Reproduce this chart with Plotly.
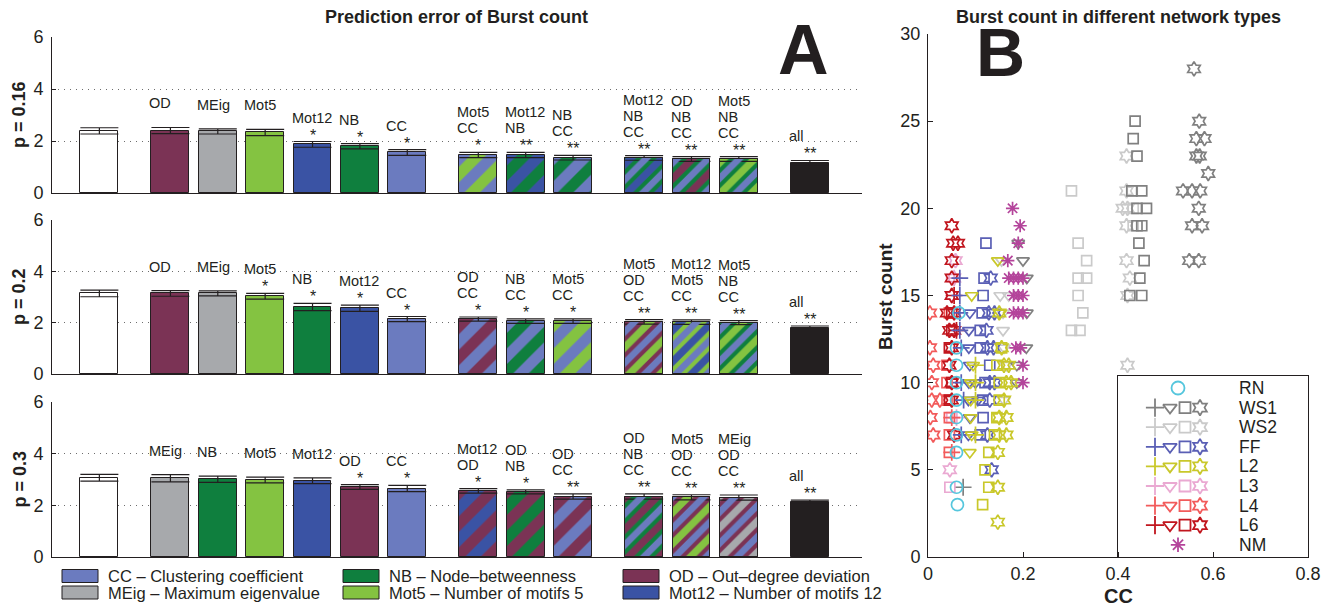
import plotly.graph_objects as go

W, H = 1329, 607
OFF = 8  # the page body margin that shifts the figure inside the window
FONT = "Liberation Sans, Arial, Helvetica, sans-serif"
INK = "#231f20"

# ---------------- Panel A data ----------------
group_sizes = [1, 6, 3, 3, 1]
panel_names = ["p = 0.16", "p = 0.2", "p = 0.3"]

labels_016 = ["", "OD", "MEig", "Mot5", "Mot12", "NB", "CC",
              "Mot5 CC", "Mot12 NB", "NB CC",
              "Mot12 NB CC", "OD NB CC", "Mot5 NB CC", "all"]
values_016 = [2.39, 2.40, 2.37, 2.33, 1.87, 1.80, 1.56, 1.46, 1.46, 1.36, 1.35, 1.31, 1.31, 1.17]
errors_016 = [0.12, 0.12, 0.10, 0.12, 0.11, 0.10, 0.11, 0.10, 0.10, 0.09, 0.09, 0.09, 0.09, 0.08]
stars_016 = ["", "", "", "", "*", "*", "*", "*", "**", "**", "**", "**", "**", "**"]

labels_02 = ["", "OD", "MEig", "Mot5", "NB", "Mot12", "CC",
             "OD CC", "NB CC", "Mot5 CC",
             "Mot5 OD CC", "Mot12 Mot5 CC", "Mot5 NB CC", "all"]
values_02 = [3.14, 3.14, 3.14, 3.03, 2.61, 2.56, 2.14, 2.14, 2.06, 2.06, 2.03, 2.02, 2.00, 1.81]
errors_02 = [0.13, 0.11, 0.10, 0.11, 0.14, 0.12, 0.10, 0.08, 0.09, 0.09, 0.09, 0.09, 0.08, 0.06]
stars_02 = ["", "", "", "*", "*", "*", "*", "*", "*", "*", "**", "**", "**", "**"]

labels_03 = ["", "MEig", "NB", "Mot5", "Mot12", "OD", "CC",
             "Mot12 OD", "OD NB", "OD CC",
             "OD NB CC", "Mot5 OD CC", "MEig OD CC", "all"]
values_03 = [3.07, 3.05, 3.01, 2.98, 2.95, 2.71, 2.65, 2.56, 2.52, 2.34, 2.34, 2.31, 2.30, 2.12]
errors_03 = [0.13, 0.14, 0.12, 0.11, 0.11, 0.09, 0.12, 0.09, 0.08, 0.10, 0.10, 0.10, 0.10, 0.08]
stars_03 = ["", "", "", "", "", "*", "*", "*", "*", "**", "**", "**", "**", "**"]

feature_colors = {"": "#ffffff", "CC": "#6b7bbf", "MEig": "#a7a9ac", "NB": "#0f7f3e",
                  "Mot5": "#84c341", "OD": "#7b3355", "Mot12": "#3a53a4", "all": "#231f20"}
legend_keys = ["CC", "NB", "OD", "MEig", "Mot5", "Mot12"]
legend_texts = ["CC – Clustering coefficient", "NB – Node–betweenness", "OD – Out–degree deviation",
                "MEig – Maximum eigenvalue", "Mot5 – Number of motifs 5", "Mot12 – Number of motifs 12"]

# ---------------- Panel B data ----------------
RN_x = [0.062, 0.06, 0.06, 0.06, 0.06, 0.06, 0.06, 0.06, 0.06, 0.065]
RN_y = [3, 4, 6, 7, 8, 9, 10, 11, 12, 14]

WS1_plus_x = [0.074]
WS1_plus_y = [4]
WS1_tri_x = [0.19, 0.2, 0.208, 0.208, 0.207, 0.187, 0.187]
WS1_tri_y = [18, 17, 16, 14, 12, 11, 10]
WS1_sq_x = [0.436, 0.432, 0.44, 0.429, 0.45, 0.44, 0.46, 0.44, 0.45, 0.444, 0.455, 0.446, 0.425, 0.45]
WS1_sq_y = [25, 24, 23, 21, 21, 20, 20, 19, 19, 18, 17, 16, 15, 15]
WS1_hex_x = [0.56, 0.571, 0.565, 0.582, 0.565, 0.572, 0.59, 0.537, 0.556, 0.573, 0.57, 0.556, 0.577, 0.55, 0.57]
WS1_hex_y = [28, 25, 24, 24, 23, 23, 22, 21, 21, 21, 20, 19, 19, 17, 17]

WS2_tri_x = [0.155, 0.152, 0.17, 0.158, 0.158, 0.16, 0.165, 0.16]
WS2_tri_y = [17, 15, 15, 14, 13, 12, 11, 9]
WS2_sq_x = [0.302, 0.316, 0.334, 0.316, 0.334, 0.316, 0.326, 0.302, 0.32, 0.43, 0.432, 0.432]
WS2_sq_y = [21, 18, 17, 16, 16, 15, 14, 13, 13, 21, 20, 19]
WS2_hex_x = [0.418, 0.418, 0.41, 0.42, 0.418, 0.418, 0.425, 0.42, 0.42]
WS2_hex_y = [23, 21, 20, 20, 19, 17, 16, 15, 11]

FF_plus_x = [0.067, 0.067, 0.067, 0.067, 0.07, 0.07, 0.075, 0.07]
FF_plus_y = [16, 15, 14, 13, 12, 10, 9, 7]
FF_tri_x = [0.088, 0.086, 0.086, 0.088, 0.086, 0.085, 0.088, 0.085, 0.1, 0.105]
FF_tri_y = [14, 13, 12, 11, 10, 9, 8, 7, 10, 9]
FF_sq_x = [0.122, 0.118, 0.116, 0.114, 0.11, 0.11, 0.13, 0.12, 0.115, 0.116, 0.11]
FF_sq_y = [18, 16, 15, 14, 13, 12, 11, 10, 9, 8, 7]
FF_hex_x = [0.132, 0.128, 0.14, 0.123, 0.125, 0.138, 0.13, 0.14, 0.13, 0.125, 0.134]
FF_hex_y = [16, 14, 14, 13, 12, 12, 10, 10, 9, 7, 5]

L2_plus_x = [0.1, 0.1, 0.1, 0.1]
L2_plus_y = [11, 10, 9, 7]
L2_tri_x = [0.147, 0.092, 0.152, 0.095, 0.09, 0.09, 0.09, 0.092, 0.088]
L2_tri_y = [17, 15, 14, 11, 10, 9, 8, 7, 6]
L2_sq_x = [0.115, 0.128, 0.12, 0.128, 0.14, 0.145, 0.15, 0.15, 0.145, 0.155]
L2_sq_y = [3, 4, 5, 6, 7, 8, 9, 10, 11, 12]
L2_hex_x = [0.147, 0.147, 0.147, 0.15, 0.165, 0.15, 0.165, 0.16, 0.165, 0.175, 0.16, 0.17, 0.155, 0.15]
L2_hex_y = [2, 4, 6, 7, 7, 8, 8, 9, 10, 10, 11, 11, 12, 14]

L3_plus_x = [0.06, 0.055]
L3_plus_y = [8, 16]
L3_sq_x = [0.046, 0.05]
L3_sq_y = [4, 8]
L3_hex_x = [0.046, 0.058, 0.055, 0.05]
L3_hex_y = [5, 17, 16, 15]

L4_plus_x = [0.05, 0.05]
L4_plus_y = [6, 8]
L4_sq_x = [0.04, 0.04, 0.04, 0.045, 0.045, 0.045, 0.045]
L4_sq_y = [11, 10, 9, 8, 7, 6, 14]
L4_hex_x = [0.004, 0.004, 0.011, 0.008, 0.008, 0.025, 0.005, 0.011]
L4_hex_y = [14, 12, 11, 10, 9, 9, 8, 7]

L6_plus_x = [0.055, 0.06]
L6_plus_y = [15, 13]
L6_sq_x = [0.05, 0.05, 0.045, 0.05, 0.045]
L6_sq_y = [14, 13, 12, 10, 9]
L6_hex_x = [0.05, 0.053, 0.063, 0.05, 0.05, 0.05, 0.04, 0.055, 0.045, 0.055, 0.05, 0.045, 0.05, 0.05, 0.055]
L6_hex_y = [19, 18, 18, 17, 16, 15, 14, 14, 13, 13, 12, 11, 10, 9, 7]

NM_x = [0.178, 0.194, 0.19, 0.168, 0.17, 0.18, 0.19, 0.2, 0.18, 0.19, 0.2, 0.18, 0.19, 0.2, 0.185, 0.195, 0.2, 0.2]
NM_y = [20, 19, 18, 17, 16, 16, 16, 16, 15, 15, 15, 14, 14, 14, 12, 12, 11, 10]

type_names = ["RN", "WS1", "WS2", "FF", "L2", "L3", "L4", "L6", "NM"]
type_colors = {"RN": "#55c6dd", "WS1": "#808080", "WS2": "#cacaca", "FF": "#5a5fb5", "L2": "#c9c82a",
               "L3": "#eaa9d2", "L4": "#f25b5b", "L6": "#c1161e", "NM": "#b4449b"}
kind_symbol = {"circle": "circle-open", "plus": "cross-thin-open", "tri": "triangle-down-open",
               "sq": "square-open", "hex": "hexagram-open", "ast": "asterisk-open"}
kind_size = {"circle": 12, "plus": 12, "tri": 11, "sq": 10, "hex": 11, "ast": 11}

scatter_series = [
    ("WS2", "tri", WS2_tri_x, WS2_tri_y), ("WS2", "sq", WS2_sq_x, WS2_sq_y), ("WS2", "hex", WS2_hex_x, WS2_hex_y),
    ("WS1", "plus", WS1_plus_x, WS1_plus_y), ("WS1", "tri", WS1_tri_x, WS1_tri_y),
    ("WS1", "sq", WS1_sq_x, WS1_sq_y), ("WS1", "hex", WS1_hex_x, WS1_hex_y),
    ("L3", "plus", L3_plus_x, L3_plus_y), ("L3", "sq", L3_sq_x, L3_sq_y), ("L3", "hex", L3_hex_x, L3_hex_y),
    ("L4", "plus", L4_plus_x, L4_plus_y), ("L4", "sq", L4_sq_x, L4_sq_y), ("L4", "hex", L4_hex_x, L4_hex_y),
    ("L6", "plus", L6_plus_x, L6_plus_y), ("L6", "sq", L6_sq_x, L6_sq_y), ("L6", "hex", L6_hex_x, L6_hex_y),
    ("FF", "plus", FF_plus_x, FF_plus_y), ("FF", "tri", FF_tri_x, FF_tri_y),
    ("FF", "sq", FF_sq_x, FF_sq_y), ("FF", "hex", FF_hex_x, FF_hex_y),
    ("L2", "plus", L2_plus_x, L2_plus_y), ("L2", "tri", L2_tri_x, L2_tri_y),
    ("L2", "sq", L2_sq_x, L2_sq_y), ("L2", "hex", L2_hex_x, L2_hex_y),
    ("RN", "circle", RN_x, RN_y),
    ("NM", "ast", NM_x, NM_y),
]
legend_kinds = {"RN": ["circle"], "NM": ["ast"]}
multi_kinds = ["plus", "tri", "sq", "hex"]


# ---------------- helpers (window pixels -> paper fractions) ----------------
def px(x):
    return (x - OFF) / W


def py(y):
    return 1 - (y - OFF) / H


def bar_positions(sizes, gap=0.5):
    out, p = [], 1.0
    for n in sizes:
        for _ in range(n):
            out.append(p)
            p += 1
        p += gap
    return out


fig = go.Figure()
annotations = []
shapes = []

pos = bar_positions(group_sizes)
BAR_W = 0.8
PAT = 22
panels = [(labels_016, values_016, errors_016, stars_016),
          (labels_02, values_02, errors_02, stars_02),
          (labels_03, values_03, errors_03, stars_03)]
panel_px = [(37, 193), (220, 374), (402, 557)]
AX_L, AX_R = 52, 862

layout_axes = {}
for i, (labels, vals, errs, stars) in enumerate(panels):
    xa = "x" if i == 0 else f"x{i+1}"
    ya = "y" if i == 0 else f"y{i+1}"
    for p_, lab, v, e, s in zip(pos, labels, vals, errs, stars):
        comps = lab.split() if lab else [""]
        cols = [feature_colors[c] for c in comps]
        if len(cols) == 1:
            marker = dict(color=cols[0], line=dict(color=INK, width=1))
        else:
            marker = dict(color=cols[0], line=dict(color=INK, width=1),
                          pattern=dict(shape="/", bgcolor=cols[0], fgcolor=cols[1], size=PAT,
                                       solidity=0.67 if len(cols) > 2 else 0.5, fillmode="replace"))
        fig.add_trace(go.Bar(
            x=[p_], y=[v], width=BAR_W, xaxis=xa, yaxis=ya, showlegend=False, hoverinfo="skip",
            marker=marker,
            error_y=dict(type="data", array=[e], color=INK, thickness=1.2, width=19),
        ))
        if len(cols) > 2:
            fig.add_trace(go.Bar(
                x=[p_], y=[v], width=BAR_W, xaxis=xa, yaxis=ya, showlegend=False, hoverinfo="skip",
                marker=dict(color="rgba(0,0,0,0)", line=dict(color=INK, width=1),
                            pattern=dict(shape="/", bgcolor="rgba(0,0,0,0)", fgcolor=cols[2],
                                         size=PAT, solidity=0.3, fillmode="replace")),
            ))
        if lab:
            for k, line in enumerate(reversed(lab.split())):
                annotations.append(dict(
                    x=p_ - BAR_W / 2, y=v + e, xref=xa, yref=ya, text=line, showarrow=False,
                    xanchor="left", yanchor="bottom", xshift=-4, yshift=14 + 16 * k,
                    font=dict(size=14.5, color=INK, family=FONT)))
        if s:
            annotations.append(dict(
                x=p_, y=v + e, xref=xa, yref=ya, text=s, showarrow=False,
                xanchor="center", yanchor="bottom", yshift=-4,
                font=dict(size=16, color=INK, family=FONT)))
    top, bot = panel_px[i]
    xkey = "xaxis" if i == 0 else f"xaxis{i+1}"
    ykey = "yaxis" if i == 0 else f"yaxis{i+1}"
    layout_axes[xkey] = dict(domain=[px(AX_L), px(AX_R)], range=[0, 17.1], anchor=ya,
                             showline=True, linecolor=INK, linewidth=1, showticklabels=False,
                             ticks="", showgrid=False, zeroline=False, fixedrange=True,
                             automargin=False)
    layout_axes[ykey] = dict(domain=[py(bot), py(top)], range=[0, 6], anchor=xa,
                             tickvals=[0, 2, 4, 6], showline=True, linecolor=INK, linewidth=1,
                             ticks="inside", ticklen=4, tickcolor=INK, showgrid=True,
                             gridcolor="#6d6d6d", griddash="1px,5px", gridwidth=1, zeroline=False,
                             tickfont=dict(size=18, color=INK, family=FONT), ticklabelstandoff=4,
                             automargin=False)
    annotations.append(dict(x=px(19), xref="paper", y=0.5, yref=f"{ya} domain",
                            text=f"<b>{panel_names[i]}</b>", textangle=-90, showarrow=False,
                            xanchor="center", yanchor="middle", borderpad=0,
                            font=dict(size=18, color=INK, family=FONT)))

# Panel A legend
LEG_COLS = [62, 343, 623]
LEG_ROWS = [576, 592.5]
for j, (key, txt) in enumerate(zip(legend_keys, legend_texts)):
    cx = LEG_COLS[j % 3]
    cy = LEG_ROWS[j // 3]
    shapes.append(dict(type="rect", xref="paper", yref="paper", x0=px(cx), x1=px(cx + 36),
                       y0=py(cy + 6.5), y1=py(cy - 6.5), fillcolor=feature_colors[key],
                       line=dict(color=INK, width=1)))
    annotations.append(dict(x=px(cx + 45), y=py(cy), xref="paper", yref="paper", text=txt,
                            showarrow=False, xanchor="left", yanchor="middle", borderpad=0,
                            font=dict(size=16.5, color=INK, family=FONT)))

# ---------------- Panel B ----------------
for tname, kind, xs, ys in scatter_series:
    fig.add_trace(go.Scatter(
        x=xs, y=ys, mode="markers", xaxis="x4", yaxis="y4", showlegend=False, hoverinfo="skip",
        marker=dict(symbol=kind_symbol[kind], size=kind_size[kind], color=type_colors[tname],
                    line=dict(width=1.7, color=type_colors[tname]))))

SC_L, SC_R, SC_T, SC_B = 928, 1308, 34, 557
layout_axes["xaxis4"] = dict(domain=[px(SC_L), px(SC_R)], range=[0, 0.8], dtick=0.2, anchor="y4",
                             showline=True, linecolor=INK, linewidth=1, ticks="inside", ticklen=5,
                             tickcolor=INK, showgrid=False, zeroline=False,
                             tickfont=dict(size=18, color=INK, family=FONT), automargin=False)
layout_axes["yaxis4"] = dict(domain=[py(SC_B), py(SC_T)], range=[0, 30], dtick=5, anchor="x4",
                             showline=True, linecolor=INK, linewidth=1, ticks="inside", ticklen=5,
                             tickcolor=INK, showgrid=False, zeroline=False,
                             tickfont=dict(size=18, color=INK, family=FONT), ticklabelstandoff=3,
                             automargin=False)

# Panel B legend box (own axes, pixel units inside the box)
LB_L, LB_R, LB_T, LB_B = 1118, 1308, 376, 557
layout_axes["xaxis5"] = dict(domain=[px(LB_L), px(LB_R)], range=[0, LB_R - LB_L], anchor="y5",
                             showline=True, mirror=True, linecolor=INK, linewidth=1,
                             showticklabels=False, ticks="", showgrid=False, zeroline=False,
                             automargin=False)
layout_axes["yaxis5"] = dict(domain=[py(LB_B), py(LB_T)], range=[LB_B - LB_T, 0], anchor="x5",
                             showline=True, mirror=True, linecolor=INK, linewidth=1,
                             showticklabels=False, ticks="", showgrid=False, zeroline=False,
                             automargin=False)
ROW0, ROW_DY = 12, 19.6
KIND_COLS = [37, 52, 67, 82]
SINGLE_COL = 60
for r, tname in enumerate(type_names):
    ry = ROW0 + ROW_DY * r
    kinds = legend_kinds.get(tname, multi_kinds)
    cols = [SINGLE_COL] if len(kinds) == 1 else KIND_COLS
    for kind, cxp in zip(kinds, cols):
        fig.add_trace(go.Scatter(
            x=[cxp], y=[ry], mode="markers", xaxis="x5", yaxis="y5", showlegend=False,
            hoverinfo="skip",
            marker=dict(symbol=kind_symbol[kind], size=kind_size[kind] + 1, color=type_colors[tname],
                        line=dict(width=1.8, color=type_colors[tname]))))
    annotations.append(dict(x=119, y=ry, xref="x5", yref="y5", text=tname, showarrow=False,
                            xanchor="left", yanchor="middle",
                            font=dict(size=17.5, color=INK, family=FONT)))


def text_px(text, x, y, size, bold=True, angle=0):
    return dict(x=px(x), y=py(y), xref="paper", yref="paper", showarrow=False,
                text=f"<b>{text}</b>" if bold else text, textangle=angle, borderpad=0,
                xanchor="center", yanchor="middle", font=dict(size=size, color=INK, family=FONT))


annotations += [
    text_px("Prediction error of Burst count", 456, 17, 18),
    text_px("Burst count in different network types", 1118, 17, 18),
    text_px("A", 803, 50, 70),
    text_px("B", 1000, 52, 68),
    text_px("CC", 1118, 596, 20),
    text_px("Burst count", 885, 296, 19, angle=-90),
]

fig.update_layout(
    width=W, height=H, autosize=False,
    margin=dict(l=0, r=0, t=0, b=0, pad=0),
    paper_bgcolor="white", plot_bgcolor="rgba(0,0,0,0)",
    barmode="overlay", bargap=0,
    font=dict(family=FONT, color=INK),
    annotations=annotations, shapes=shapes,
    **layout_axes,
)

fig.write_html("out.html")
